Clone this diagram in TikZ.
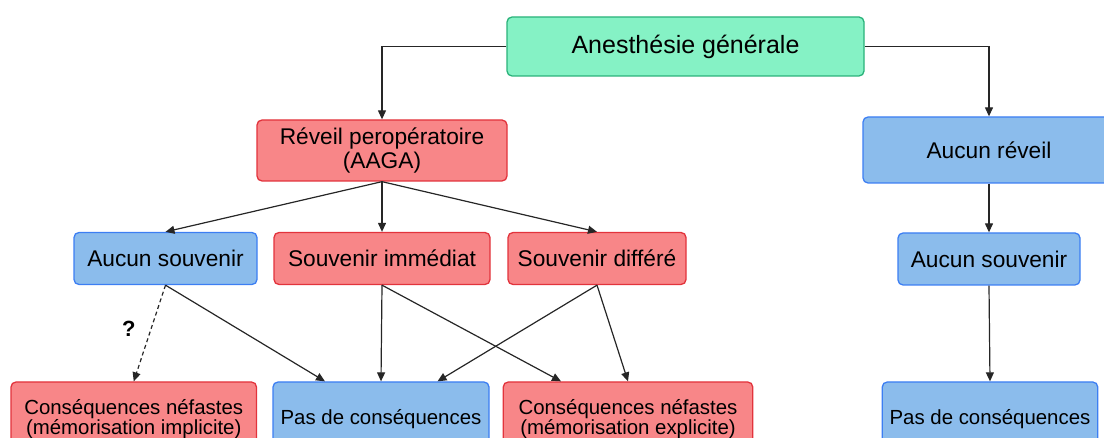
\documentclass[tikz,border=0pt]{standalone}
\usepackage{fontspec}
\setmainfont{Liberation Sans}
\usepackage{xcolor}
\usetikzlibrary{arrows.meta,positioning}
\definecolor{genfill}{HTML}{85F2C5}
\definecolor{genline}{HTML}{2AB27A}
\definecolor{redfill}{HTML}{F88688}
\definecolor{redline}{HTML}{E2333C}
\definecolor{bluefill}{HTML}{8BBCEC}
\definecolor{blueline}{HTML}{3C7EF3}
\tikzset{
  rootbox/.style={
    draw=genline,
    line width=1.3pt,
    rounded corners=5pt,
    minimum width=357pt,
    minimum height=59pt,
    inner sep=0pt,
    align=center,
    font=\fontsize{25}{27}\selectfont,
    fill=genfill
  },
  redbox/.style={
    draw=redline,
    line width=1.3pt,
    rounded corners=5pt,
    minimum height=52pt,
    inner sep=0pt,
    align=center,
    font=\fontsize{22.7}{24}\selectfont,
    fill=redfill
  },
  bluebox/.style={
    draw=blueline,
    line width=1.3pt,
    rounded corners=5pt,
    minimum height=52pt,
    inner sep=0pt,
    align=center,
    font=\fontsize{22.7}{24}\selectfont,
    fill=bluefill
  },
  lowtext/.style={font=\fontsize{20.4}{20.6}\selectfont, minimum height=74pt},
  qmark/.style={font=\fontsize{22}{22}\selectfont\bfseries, inner sep=0pt},
  flow/.style={-{Triangle[length=9pt,width=8pt]}, line width=1.2pt, draw=black!85},
  maybe/.style={flow, dash pattern=on 4pt off 3pt}
}
\begin{document}
\begin{tikzpicture}[x=1pt, y=-1pt]
  \useasboundingbox (0,0) rectangle (1104,438);
  \clip (0,0) rectangle (1104,438);

  \node[rootbox] (gen) at (685.5,46.5) {Anesthésie générale};

  \node[redbox, minimum width=250pt, minimum height=61pt] (aaga) at (382,150.5) {Réveil peropératoire\\(AAGA)};
  \node[bluebox, minimum width=252pt, minimum height=66pt] (noawake) at (989,150) {Aucun réveil};

  \node[bluebox, minimum width=183pt] (nomem) at (165.5,258.5) {Aucun souvenir};
  \node[redbox, minimum width=216pt] (immed) at (382,258.5) {Souvenir immédiat};
  \node[redbox, minimum width=178pt] (delay) at (597,258.5) {Souvenir différé};
  \node[bluebox, minimum width=182pt] (nomem2) at (989,259) {Aucun souvenir};

  \node[redbox, lowtext, minimum width=245.5pt] (implicit) at (133.75,419) {Conséquences néfastes\\(mémorisation implicite)};
  \node[bluebox, lowtext, minimum width=216pt] (nocons) at (381,419) {Pas de conséquences};
  \node[redbox, lowtext, minimum width=249.5pt] (explicit) at (628,419) {Conséquences néfastes\\(mémorisation explicite)};
  \node[bluebox, lowtext, minimum width=215.5pt] (nocons2) at (990,419) {Pas de conséquences};

  \draw[flow] (gen.west) -| (aaga.north);
  \draw[flow] (gen.east) -| (noawake.north);

  \draw[flow] (aaga.south) -- (nomem.north);
  \draw[flow] (aaga.south) -- (immed.north);
  \draw[flow] (aaga.south) -- (delay.north);

  \draw[maybe] (nomem.south) -- node[qmark, pos=0.45, left=15pt] (q) {?} (implicit.north);
  \draw[flow] (nomem.south) -- ([xshift=-56pt]nocons.north);
  \draw[flow] (immed.south) -- (nocons.north);
  \draw[flow] (immed.south) -- ([xshift=-67pt]explicit.north);
  \draw[flow] (delay.south) -- ([xshift=56.5pt]nocons.north);
  \draw[flow] (delay.south) -- (explicit.north);

  \draw[flow] (noawake.south) -- (nomem2.north);
  \draw[flow] (nomem2.south) -- (nocons2.north);
\end{tikzpicture}
\end{document}
